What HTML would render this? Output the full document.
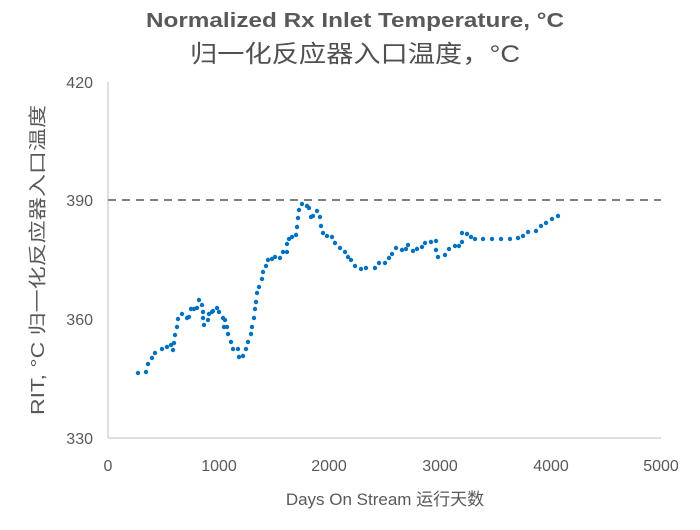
<!DOCTYPE html>
<html><head><meta charset="utf-8"><style>
html,body{margin:0;padding:0;background:#fff;}
svg{display:block;font-family:"Liberation Sans","Noto Sans CJK SC",sans-serif;}
</style></head><body>
<svg width="700" height="530" viewBox="0 0 700 530" xmlns="http://www.w3.org/2000/svg">
<text x="355" y="27" text-anchor="middle" font-size="20" font-weight="bold" fill="#595959" textLength="418" lengthAdjust="spacingAndGlyphs">Normalized Rx Inlet Temperature, °C</text>
<text x="355" y="62" text-anchor="middle" font-size="24" fill="#505050" textLength="330" lengthAdjust="spacingAndGlyphs">归一化反应器入口温度，°C</text>
<line x1="108" y1="82" x2="108" y2="438" stroke="#bfbfbf" stroke-width="1"/>
<line x1="108" y1="438" x2="661" y2="438" stroke="#bfbfbf" stroke-width="1"/>
<line x1="108" y1="200" x2="661" y2="200" stroke="#7f7f7f" stroke-width="2" stroke-dasharray="8,6"/>
<g font-size="16" fill="#595959" text-anchor="end">
<text x="93" y="88">420</text><text x="93" y="206">390</text><text x="93" y="325">360</text><text x="93" y="444">330</text>
</g>
<g font-size="16" fill="#595959" text-anchor="middle">
<text x="108" y="471">0</text><text x="219" y="471">1000</text><text x="329" y="471">2000</text><text x="440" y="471">3000</text><text x="551" y="471">4000</text><text x="661" y="471">5000</text>
</g>
<text x="385" y="505" text-anchor="middle" font-size="17" fill="#595959">Days On Stream 运行天数</text>
<text transform="translate(44,260) rotate(-90)" text-anchor="middle" font-size="18" fill="#595959" textLength="310" lengthAdjust="spacingAndGlyphs">RIT, °C 归一化反应器入口温度</text>
<g fill="#0070c0">
<circle cx="138" cy="373" r="2.2"/><circle cx="146" cy="372" r="2.2"/><circle cx="148" cy="364" r="2.2"/><circle cx="152" cy="358" r="2.2"/><circle cx="155" cy="353" r="2.2"/><circle cx="162" cy="349" r="2.2"/><circle cx="167" cy="347" r="2.2"/><circle cx="171" cy="345" r="2.2"/><circle cx="173" cy="350" r="2.2"/><circle cx="174" cy="343" r="2.2"/><circle cx="175" cy="335" r="2.2"/><circle cx="177" cy="327" r="2.2"/><circle cx="178" cy="319" r="2.2"/><circle cx="182" cy="314" r="2.2"/><circle cx="187" cy="318" r="2.2"/><circle cx="189" cy="317" r="2.2"/><circle cx="191" cy="309" r="2.2"/><circle cx="194" cy="309" r="2.2"/><circle cx="197" cy="308" r="2.2"/><circle cx="199" cy="300" r="2.2"/><circle cx="202" cy="305" r="2.2"/><circle cx="203" cy="312" r="2.2"/><circle cx="203" cy="318" r="2.2"/><circle cx="204" cy="325" r="2.2"/><circle cx="208" cy="320" r="2.2"/><circle cx="209" cy="314" r="2.2"/><circle cx="212" cy="312" r="2.2"/><circle cx="213" cy="311" r="2.2"/><circle cx="217" cy="308" r="2.2"/><circle cx="219" cy="312" r="2.2"/><circle cx="223" cy="318" r="2.2"/><circle cx="225" cy="320" r="2.2"/><circle cx="224" cy="327" r="2.2"/><circle cx="227" cy="327" r="2.2"/><circle cx="228" cy="334" r="2.2"/><circle cx="231" cy="342" r="2.2"/><circle cx="233" cy="349" r="2.2"/><circle cx="238" cy="349" r="2.2"/><circle cx="239" cy="357" r="2.2"/><circle cx="243" cy="356" r="2.2"/><circle cx="246" cy="349" r="2.2"/><circle cx="248" cy="342" r="2.2"/><circle cx="251" cy="334" r="2.2"/><circle cx="252" cy="327" r="2.2"/><circle cx="254" cy="318" r="2.2"/><circle cx="255" cy="309" r="2.2"/><circle cx="256" cy="302" r="2.2"/><circle cx="257" cy="293" r="2.2"/><circle cx="259" cy="287" r="2.2"/><circle cx="262" cy="279" r="2.2"/><circle cx="263" cy="272" r="2.2"/><circle cx="266" cy="266" r="2.2"/><circle cx="268" cy="260" r="2.2"/><circle cx="272" cy="259" r="2.2"/><circle cx="275" cy="257" r="2.2"/><circle cx="280" cy="258" r="2.2"/><circle cx="283" cy="252" r="2.2"/><circle cx="287" cy="252" r="2.2"/><circle cx="287" cy="244" r="2.2"/><circle cx="289" cy="239" r="2.2"/><circle cx="292" cy="237" r="2.2"/><circle cx="296" cy="235" r="2.2"/><circle cx="297" cy="227" r="2.2"/><circle cx="298" cy="218" r="2.2"/><circle cx="299" cy="210" r="2.2"/><circle cx="302" cy="204" r="2.2"/><circle cx="307" cy="206" r="2.2"/><circle cx="309" cy="208" r="2.2"/><circle cx="311" cy="217" r="2.2"/><circle cx="313" cy="216" r="2.2"/><circle cx="317" cy="211" r="2.2"/><circle cx="320" cy="217" r="2.2"/><circle cx="321" cy="226" r="2.2"/><circle cx="323" cy="233" r="2.2"/><circle cx="327" cy="236" r="2.2"/><circle cx="332" cy="237" r="2.2"/><circle cx="335" cy="243" r="2.2"/><circle cx="340" cy="248" r="2.2"/><circle cx="345" cy="252" r="2.2"/><circle cx="348" cy="257" r="2.2"/><circle cx="351" cy="260" r="2.2"/><circle cx="355" cy="266" r="2.2"/><circle cx="361" cy="269" r="2.2"/><circle cx="366" cy="268" r="2.2"/><circle cx="375" cy="268" r="2.2"/><circle cx="379" cy="263" r="2.2"/><circle cx="385" cy="263" r="2.2"/><circle cx="389" cy="258" r="2.2"/><circle cx="392" cy="254" r="2.2"/><circle cx="396" cy="248" r="2.2"/><circle cx="402" cy="250" r="2.2"/><circle cx="406" cy="249" r="2.2"/><circle cx="408" cy="245" r="2.2"/><circle cx="413" cy="251" r="2.2"/><circle cx="417" cy="249" r="2.2"/><circle cx="422" cy="247" r="2.2"/><circle cx="425" cy="243" r="2.2"/><circle cx="431" cy="242" r="2.2"/><circle cx="436" cy="241" r="2.2"/><circle cx="436" cy="250" r="2.2"/><circle cx="438" cy="257" r="2.2"/><circle cx="445" cy="255" r="2.2"/><circle cx="449" cy="249" r="2.2"/><circle cx="455" cy="246" r="2.2"/><circle cx="459" cy="246" r="2.2"/><circle cx="462" cy="242" r="2.2"/><circle cx="462" cy="233" r="2.2"/><circle cx="467" cy="234" r="2.2"/><circle cx="471" cy="237" r="2.2"/><circle cx="475" cy="239" r="2.2"/><circle cx="483" cy="239" r="2.2"/><circle cx="492" cy="239" r="2.2"/><circle cx="501" cy="239" r="2.2"/><circle cx="510" cy="239" r="2.2"/><circle cx="518" cy="238" r="2.2"/><circle cx="523" cy="236" r="2.2"/><circle cx="528" cy="232" r="2.2"/><circle cx="536" cy="231" r="2.2"/><circle cx="541" cy="226" r="2.2"/><circle cx="546" cy="223" r="2.2"/><circle cx="552" cy="219" r="2.2"/><circle cx="558" cy="216" r="2.2"/>
</g>
</svg>
</body></html>
